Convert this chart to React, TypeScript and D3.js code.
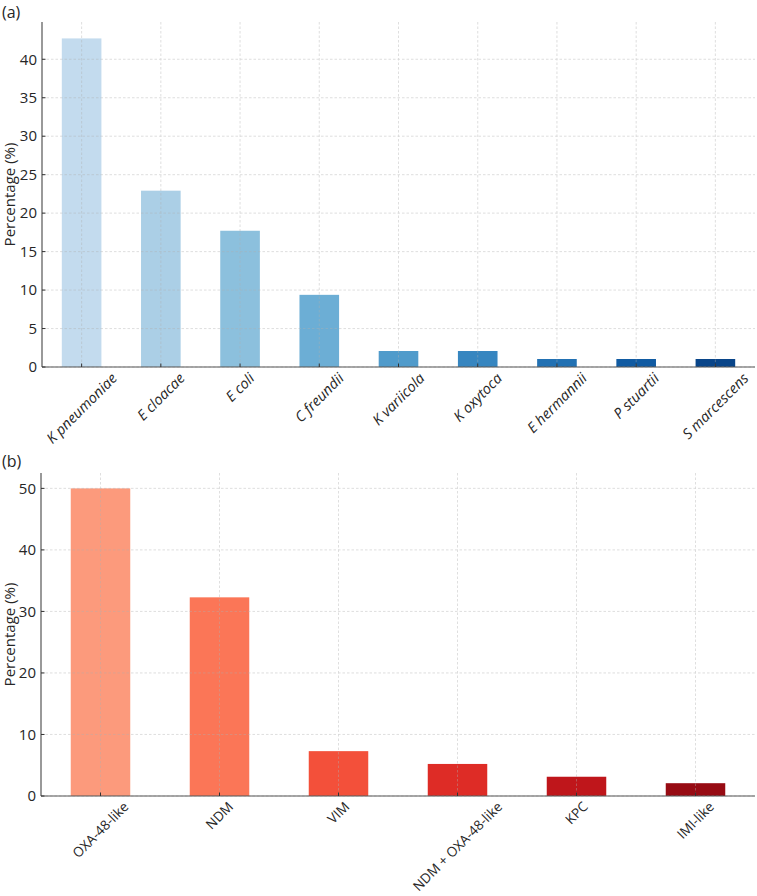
import React, { useEffect, useRef } from "react";
import * as d3 from "d3";

const W = 757;
const H = 896;

// Panel (a): species distribution
const speciesNames = [
  "K pneumoniae",
  "E cloacae",
  "E coli",
  "C freundii",
  "K variicola",
  "K oxytoca",
  "E hermannii",
  "P stuartii",
  "S marcescens",
];
const speciesPct = [42.71, 22.92, 17.71, 9.38, 2.08, 2.08, 1.04, 1.04, 1.04];
const speciesTicks = [0, 5, 10, 15, 20, 25, 30, 35, 40];

// Panel (b): carbapenemase types
const enzymeNames = ["OXA-48-like", "NDM", "VIM", "NDM + OXA-48-like", "KPC", "IMI-like"];
const enzymePct = [50.0, 32.29, 7.29, 5.21, 3.13, 2.08];
const enzymeTicks = [0, 10, 20, 30, 40, 50];

const FONT = "'Open Sans', 'Noto Sans', sans-serif";

interface PanelSpec {
  tag: string;
  names: string[];
  values: number[];
  ticks: number[];
  colors: string[];
  italic: boolean;
  labelSize: number;
  top: number;
  bottom: number;
  left: number;
  right: number;
  tagY: number;
}

function drawPanel(svg: d3.Selection<SVGSVGElement, unknown, null, undefined>, p: PanelSpec) {
  const g = svg.append("g");
  const maxV = d3.max(p.values) as number;
  const y = d3.scaleLinear().domain([0, maxV * 1.05]).range([p.bottom, p.top]);
  const x = d3
    .scaleBand<string>()
    .domain(p.names)
    .range([p.left, p.right])
    .paddingInner(0.5)
    .paddingOuter(0.25);
  const center = (n: string) => (x(n) as number) + x.bandwidth() / 2;

  // bars
  g.selectAll("rect.bar")
    .data(p.values)
    .join("rect")
    .attr("class", "bar")
    .attr("x", (_, i) => x(p.names[i]) as number)
    .attr("width", x.bandwidth())
    .attr("y", (d) => y(d))
    .attr("height", (d) => p.bottom - y(d))
    .attr("fill", (_, i) => p.colors[i]);

  // grid
  const grid = g.append("g").attr("stroke", "#b0b0b0").attr("stroke-width", 0.8)
    .attr("stroke-dasharray", "2.5,2").attr("opacity", 0.5);
  p.ticks.forEach((t) => {
    grid.append("line").attr("x1", p.left).attr("x2", p.right).attr("y1", y(t)).attr("y2", y(t));
  });
  p.names.forEach((n) => {
    grid.append("line").attr("x1", center(n)).attr("x2", center(n)).attr("y1", p.top).attr("y2", p.bottom);
  });

  // spines
  g.append("line").attr("x1", p.left).attr("x2", p.left).attr("y1", p.top).attr("y2", p.bottom)
    .attr("stroke", "#555").attr("stroke-width", 1.2);
  g.append("line").attr("x1", p.left).attr("x2", p.right).attr("y1", p.bottom).attr("y2", p.bottom)
    .attr("stroke", "#555").attr("stroke-width", 1.2);

  // y ticks
  p.ticks.forEach((t) => {
    g.append("line").attr("x1", p.left).attr("x2", p.left + 3.5).attr("y1", y(t)).attr("y2", y(t))
      .attr("stroke", "#333").attr("stroke-width", 1);
    g.append("text").attr("x", p.left - 5).attr("y", y(t)).attr("dy", "0.35em")
      .attr("text-anchor", "end").attr("font-size", 15).attr("fill", "#262626")
      .attr("font-family", FONT).text(String(t));
  });

  // x ticks and rotated labels, centred under the tick
  const fs = p.labelSize;
  p.names.forEach((n) => {
    const cx = center(n);
    g.append("line").attr("x1", cx).attr("x2", cx).attr("y1", p.bottom).attr("y2", p.bottom - 3.5)
      .attr("stroke", "#333").attr("stroke-width", 1);
    const t = g.append("text").attr("text-anchor", "middle").attr("dy", "0.35em")
      .attr("font-size", fs).attr("fill", "#262626").attr("font-family", FONT)
      .attr("font-style", p.italic ? "italic" : "normal").text(n);
    const w = (t.node() as SVGTextElement).getComputedTextLength();
    const half = (w + fs * 1.1) / (2 * Math.SQRT2);
    t.attr("transform", `translate(${cx},${p.bottom + 3 + half}) rotate(-45)`);
  });

  // axis label
  g.append("text")
    .attr("transform", `translate(${10},${(p.top + p.bottom) / 2}) rotate(-90)`)
    .attr("text-anchor", "middle").attr("dy", "0.35em").attr("font-size", 15)
    .attr("fill", "#262626").attr("font-family", FONT).text("Percentage (%)");

  // panel tag
  g.append("text").attr("x", 2).attr("y", p.tagY).attr("font-size", 16)
    .attr("fill", "#262626").attr("font-family", FONT).text(p.tag);
}

export default function App() {
  const ref = useRef<SVGSVGElement>(null);
  useEffect(() => {
    const svg = d3.select(ref.current as SVGSVGElement);
    svg.selectAll("*").remove();
    const blues = speciesNames.map((_, i) => d3.interpolateBlues(0.25 + (i * 0.67) / (speciesNames.length - 1)));
    const reds = enzymeNames.map((_, i) => d3.interpolateReds(0.35 + (i * 0.55) / (enzymeNames.length - 1)));
    drawPanel(svg, {
      tag: "(a)", names: speciesNames, values: speciesPct, ticks: speciesTicks, colors: blues, italic: true,
      labelSize: 14.5, top: 22, bottom: 367, left: 42, right: 755, tagY: 18,
    });
    drawPanel(svg, {
      tag: "(b)", names: enzymeNames, values: enzymePct, ticks: enzymeTicks, colors: reds, italic: false,
      labelSize: 13.5, top: 473, bottom: 796, left: 41, right: 755, tagY: 467,
    });
  }, []);
  return (
    <svg
      ref={ref}
      width={W}
      height={H}
      style={{ position: "absolute", left: 0, top: 0, background: "#fff" }}
    />
  );
}
